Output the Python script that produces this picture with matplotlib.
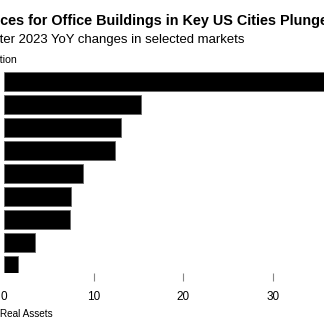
import matplotlib
matplotlib.use("Agg")
import matplotlib.pyplot as plt

# YoY price change, first quarter 2023 (percent decline), top to bottom
values = [37.0, 15.3, 13.1, 12.4, 8.8, 7.5, 7.4, 3.5, 1.6]
ticks = [0, 10, 20, 30]
tick_labels = ["0", "10", "20", "30"]

title = "Prices for Office Buildings in Key US Cities Plunged"
subtitle = "First quarter 2023 YoY changes in selected markets"
unit = "% reduction"
source = "Source: MSCI Real Assets"

plt.rcParams['font.family'] = ['Liberation Sans', 'DejaVu Sans']

W, H = 324, 333
fig = plt.figure(figsize=(W / 100, H / 100), dpi=100)
renderer = fig.canvas.get_renderer()


def width_px(s, size, weight):
    probe = fig.text(0, 0, s, fontsize=size, fontweight=weight)
    w = probe.get_window_extent(renderer).width
    probe.remove()
    return w


def cut_text(full, hidden, shown, shown_w, y_px, weight="normal"):
    # size the text so the visible part spans shown_w px,
    # with the `hidden` prefix pushed left of the canvas
    size = 10.0 * shown_w / width_px(shown, 10.0, weight)
    w = width_px(hidden, size, weight)
    fig.text(-w / W, 1 - y_px / H, full, fontsize=size, fontweight=weight,
             va="center", ha="left", color="black")


cut_text(title, "Pri", "ces for Office Buildings in Key US Cities Plunge", 328, 21, "bold")
cut_text(subtitle, "First quar", "ter 2023 YoY changes in selected markets", 245, 40)
cut_text(unit, "% reduc", "tion", 17, 60)
cut_text(source, "Source: MSCI ", "Real Assets", 53, 314)

top, bottom = 70, 273
ax = fig.add_axes([4 / W, 1 - bottom / H, 1 - 4 / W, (bottom - top) / H])
pos = list(range(len(values)))
ax.barh(pos, values, height=0.8, color="black", edgecolor="#666666", linewidth=0.6)
ax.set_xlim(0, 35.68)
ax.set_ylim(8.33, -0.5)

ax.set_xticks(ticks)
ax.set_xticklabels(tick_labels, fontsize=8.5)
ax.tick_params(axis="x", length=6, width=0.8, color="#888888", pad=7)
ax.xaxis.get_major_ticks()[0].tick1line.set_visible(False)
ax.set_yticks([])
for s in ax.spines.values():
    s.set_visible(False)

fig.savefig("out.png", dpi=100)
